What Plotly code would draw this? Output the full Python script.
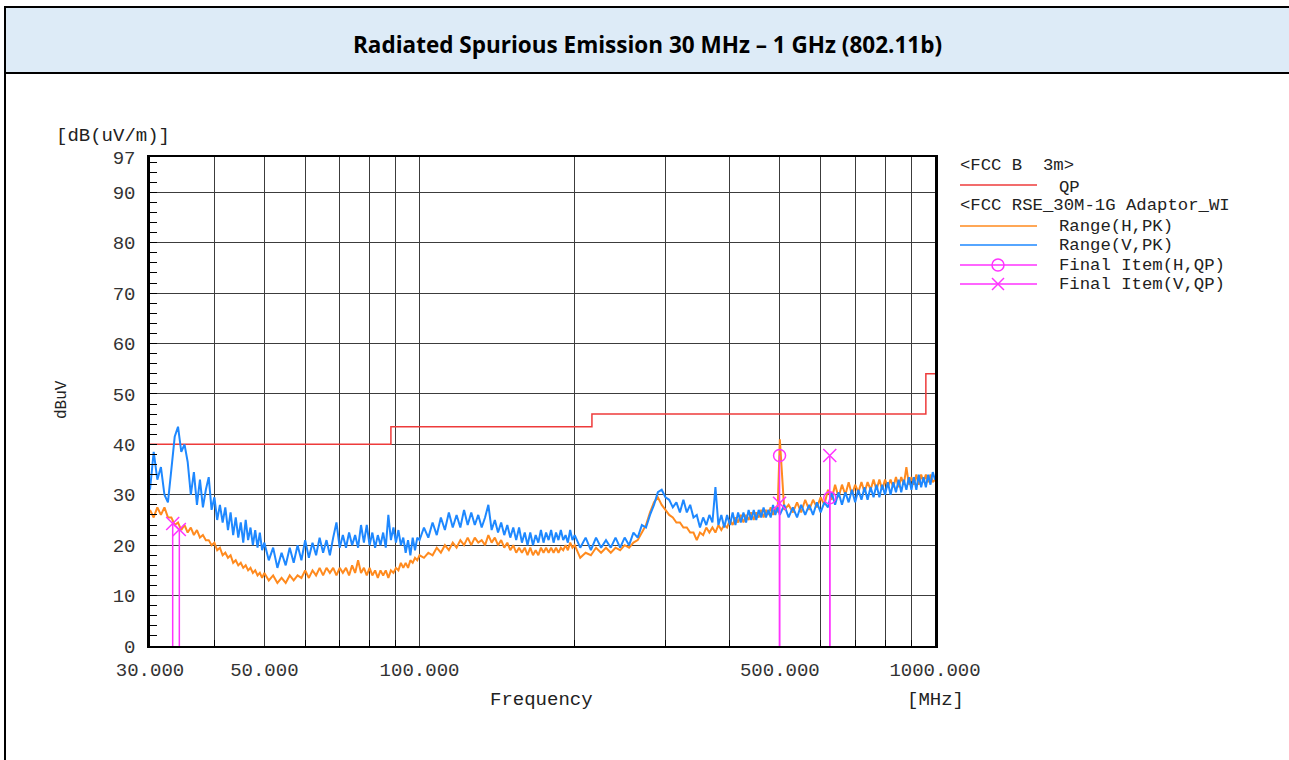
import plotly.graph_objects as go

# ---------------- data ----------------
freq_mhz = [
    30, 30.5, 31, 31.5, 32, 32.5, 33, 33.5, 34, 34.5, 35, 35.5, 36, 36.5, 37, 37.5, 38, 38.5, 39, 39.5,
    40, 40.5, 41, 41.5, 42, 42.5, 43, 43.5, 44, 44.5, 45, 45.5, 46, 46.5, 47, 47.5, 48, 48.5, 49, 49.5,
    50, 51, 52, 53, 54, 55, 56, 57, 58, 59, 60, 61, 62, 63, 64, 65, 66, 67, 68, 69,
    70, 71, 72, 73, 74, 75, 76, 77, 78, 79, 80, 81, 82, 83, 84, 85, 86, 87, 88, 89,
    90, 91, 92, 93, 94, 95, 96, 97, 98, 99,
    100, 102, 104, 106, 108, 110, 112, 114, 116, 118, 120, 122, 124, 126, 128, 130, 132, 134, 136, 138,
    140, 142, 144, 146, 148, 150, 152, 154, 156, 158, 160, 162, 164, 166, 168, 170, 172, 174, 176, 178,
    180, 182, 184, 186, 188, 190, 192, 194, 196, 198,
    200, 205, 210, 215, 220, 225, 230, 235, 240, 245, 250, 255, 260, 265, 270, 275, 280, 285, 290, 295,
    300, 305, 310, 315, 320, 325, 330, 335, 340, 345, 350, 355, 360, 365, 370, 375, 380, 385, 390, 395,
    400, 405, 410, 415, 420, 425, 430, 435, 440, 445, 450, 455, 460, 465, 470, 475, 480, 485, 490, 495,
    500, 510, 520, 530, 540, 550, 560, 570, 580, 590, 600, 610, 620, 630, 640, 650, 660, 670, 680, 690,
    700, 710, 720, 730, 740, 750, 760, 770, 780, 790, 800, 810, 820, 830, 840, 850, 860, 870, 880, 890,
    900, 910, 920, 930, 940, 950, 960, 970, 980, 990, 1000]

range_h_pk = [
    27, 25.5, 27.5, 26, 27.5, 25.5, 25.5, 24, 24.5, 23, 24, 22.5, 23.5, 22, 23, 21.5, 22, 21, 21, 20,
    20.5, 19, 19.5, 18, 18.5, 17.5, 18, 16.5, 17, 16, 16.5, 15.5, 16, 15, 15.5, 14.5, 15, 14, 14.5, 13.5,
    14.5, 13, 14, 12.5, 13.5, 12.5, 14, 13, 14, 13.5, 15, 13.5, 15, 14, 15.5, 14, 15.5, 14.5, 15.5, 14,
    15.5, 14.5, 15.5, 14, 16, 14.5, 17, 14.5, 15.5, 14, 15.5, 14, 15, 13.5, 15, 14, 15, 13.5, 15, 14.5,
    15.5, 15, 16.5, 15.5, 16.5, 15.5, 17, 16.5, 17.5, 17,
    18, 17.5, 18.5, 18, 19.5, 18.5, 20, 19, 20.5, 19.5, 21, 20, 21.5, 20, 21.5, 20.5, 21, 20, 22, 20.5,
    21.5, 20, 21, 19.5, 20.5, 19, 20, 18.5, 19.5, 18.5, 19.5, 18, 19.5, 18, 19, 18, 19.5, 18.5, 19.5, 18.5,
    19.5, 18.5, 19.5, 18.5, 19.5, 19, 20, 19, 20.5, 19.5,
    20, 17.5, 18.5, 18, 19.5, 18.5, 19.5, 18.5, 19.5, 19, 20, 19.5, 20.5, 21, 22.5, 24, 26.5, 28.5, 29.5, 28,
    27, 26, 25.5, 24.5, 24.5, 23.5, 23.5, 22.5, 22.5, 21, 22.5, 22, 23.5, 22.5, 23.5, 22.5, 24, 23, 24, 23.5,
    25, 24, 25.5, 24.5, 26, 24.5, 26, 25, 26.5, 25, 26.5, 25.5, 27, 25.5, 27, 26, 27.5, 26, 27.5, 26.5,
    41, 27, 28, 26.5, 28.5, 26.5, 29, 27, 29, 27.5, 29.5, 28, 31, 29, 32, 29.5, 32, 30, 32.5, 30,
    32, 30.5, 32.5, 30.5, 32.5, 31, 33, 31, 33, 31, 33, 31.5, 33, 31.5, 33.5, 31.5, 33.5, 32, 35.5, 32,
    33.5, 32, 34, 32, 34, 32.5, 34, 32.5, 34, 32.5, 33]

range_v_pk = [
    31, 38.5, 33, 35.5, 30, 28.5, 35, 41.5, 43.5, 38.5, 40, 36.5, 30, 34.5, 28, 33, 27.5, 31, 33.5, 27,
    29.5, 25, 28, 24.5, 27.5, 23, 26.5, 22, 25.5, 21.5, 24.5, 20.5, 25, 21, 23.5, 20, 23, 19.5, 22.5, 19,
    20.5, 17, 19.5, 15.5, 18.5, 16, 19.5, 16.5, 20, 17, 21, 17.5, 20.5, 18, 21.5, 18.5, 21, 18, 21.5, 24.5,
    19.5, 22, 19.5, 22.5, 20, 22, 19.5, 24, 20.5, 24, 20, 22.5, 19.5, 22, 20, 22.5, 19.5, 26, 21, 23.5,
    20.5, 23, 20, 21.5, 18.5, 21, 18, 21.5, 19, 21.5,
    21, 23.5, 21.5, 24.5, 22, 25.5, 23, 26.5, 23.5, 26, 23.5, 27, 24, 26.5, 24, 26, 23.5, 25.5, 28, 23,
    25, 22.5, 24.5, 22, 24, 21.5, 23.5, 21, 23.5, 20.5, 22.5, 20, 22.5, 20, 22, 20.5, 23, 20.5, 22.5, 21,
    23, 20.5, 22.5, 21, 23, 21, 22, 20.5, 23, 21,
    22, 19.5, 21.5, 19, 21.5, 19.5, 21, 19.5, 21.5, 19.5, 21.5, 20, 22.5, 21.5, 24, 23.5, 26, 28, 30.5, 31,
    29.5, 29, 27.5, 28.5, 26.5, 29, 26.5, 28, 25.5, 26, 23.5, 25.5, 24, 26, 24.5, 31.5, 24, 26, 23.5, 26,
    24, 26.5, 24, 26.5, 24.5, 26.5, 24.5, 27, 25, 27, 25, 27, 25.5, 27.5, 25.5, 27, 25.5, 28, 26, 27.5,
    26, 28, 25.5, 27.5, 25.5, 28, 26, 28, 26, 28.5, 26.5, 28.5, 27.5, 30.5, 28, 30.5, 28, 30.5, 28.5, 31,
    28.5, 31, 29, 31.5, 29, 31.5, 29.5, 32, 29.5, 32, 30, 32.5, 30, 32.5, 30.5, 33, 30.5, 33, 31, 33.5,
    31, 33.5, 31, 34, 31.5, 33.5, 31.5, 34, 32, 34.5, 33]

limit_freq = [30, 88, 88, 216, 216, 960, 960, 1000]
limit_qp = [40, 40, 43.5, 43.5, 46, 46, 54, 54]

final_h_freq = [499.4, 625.0]
final_h_qp = [37.8, 29.4]
final_v_freq = [33.2, 34.2, 499.4, 625.0]
final_v_qp = [24.3, 23.1, 28.3, 37.8]

x_tick_vals = [30, 50, 100, 500, 1000]
x_tick_text = ["30.000", "50.000", "100.000", "500.000", "1000.000"]
x_minor_vals = [40, 60, 70, 80, 90, 200, 300, 400, 600, 700, 800, 900]
y_tick_vals = [0, 10, 20, 30, 40, 50, 60, 70, 80, 90, 97]

# ---------------- styling ----------------
RED = "#EE3B3B"
ORANGE = "#FF8A1E"
BLUE = "#1E88FF"
MAGENTA = "#FF33FF"
GRID = "#3c3c3c"
MONO = "Liberation Mono"

L, R, T, B = 150, 935, 157, 646
W, H = 1289, 760


def PX(x):
    return (x - L) / (R - L)


def PY(y):
    return (B - y) / (B - T)


def stems(freqs, vals):
    xs, ys = [], []
    for f, v in zip(freqs, vals):
        xs += [f, f, None]
        ys += [0, v, None]
    return xs, ys


fig = go.Figure()

fig.add_trace(go.Scatter(x=limit_freq, y=limit_qp, mode="lines",
                         line=dict(color=RED, width=1.5), name="QP"))
fig.add_trace(go.Scatter(x=freq_mhz, y=range_h_pk, mode="lines",
                         line=dict(color=ORANGE, width=2), name="Range(H,PK)"))
fig.add_trace(go.Scatter(x=freq_mhz, y=range_v_pk, mode="lines",
                         line=dict(color=BLUE, width=2), name="Range(V,PK)"))

sx, sy = stems(final_h_freq, final_h_qp)
fig.add_trace(go.Scatter(x=sx, y=sy, mode="lines", line=dict(color=MAGENTA, width=1.5),
                         hoverinfo="skip", showlegend=False))
sx, sy = stems(final_v_freq, final_v_qp)
fig.add_trace(go.Scatter(x=sx, y=sy, mode="lines", line=dict(color=MAGENTA, width=1.5),
                         hoverinfo="skip", showlegend=False))
fig.add_trace(go.Scatter(x=final_h_freq, y=final_h_qp, mode="markers", name="Final Item(H,QP)",
                         marker=dict(symbol="circle-open", size=12, color=MAGENTA,
                                     line=dict(width=1.5, color=MAGENTA))))
fig.add_trace(go.Scatter(x=final_v_freq, y=final_v_qp, mode="markers", name="Final Item(V,QP)",
                         marker=dict(symbol="x-thin-open", size=13, color=MAGENTA,
                                     line=dict(width=1.5, color=MAGENTA))))

fig.update_xaxes(type="log", range=[1.4771213, 3.0], tickmode="array",
                 tickvals=x_tick_vals, ticktext=x_tick_text,
                 tickfont=dict(family=MONO, size=19, color="#333333"),
                 showgrid=True, gridcolor=GRID, gridwidth=1.2,
                 showline=True, linecolor="black", linewidth=2, mirror=True,
                 ticks="", zeroline=False, ticklabelstandoff=5,
                 minor=dict(tickmode="array", tickvals=x_minor_vals, showgrid=True,
                            gridcolor=GRID, gridwidth=1.2, ticks="inside", ticklen=6,
                            tickcolor="black"))
fig.update_yaxes(range=[0, 97], tickmode="array", tickvals=y_tick_vals,
                 tickfont=dict(family=MONO, size=19, color="#333333"),
                 showgrid=True, gridcolor=GRID, gridwidth=1.2,
                 showline=True, linecolor="black", linewidth=2.5, mirror=True,
                 ticks="", zeroline=False, ticklabelstandoff=8,
                 minor=dict(tickmode="linear", tick0=0, dtick=2, ticks="inside",
                            ticklen=7, tickcolor="black", showgrid=False))

shapes = []
# table frame and title band
shapes.append(dict(type="rect", xref="paper", yref="paper",
                   x0=PX(5), x1=PX(1290), y0=PY(73), y1=PY(7),
                   fillcolor="#DDEBF7", line=dict(color="black", width=2), layer="below"))
shapes.append(dict(type="line", xref="paper", yref="paper",
                   x0=PX(5), x1=PX(5), y0=PY(761), y1=PY(7),
                   line=dict(color="black", width=2)))

# legend samples
leg_x0, leg_x1 = 960, 1037
leg = [(185, RED), (226, ORANGE), (245, BLUE), (265, MAGENTA), (284, MAGENTA)]
for yy, col in leg:
    shapes.append(dict(type="line", xref="paper", yref="paper",
                       x0=PX(leg_x0), x1=PX(leg_x1), y0=PY(yy), y1=PY(yy),
                       line=dict(color=col, width=1.5)))
cx, cy, r = 998, 265, 6
shapes.append(dict(type="circle", xref="paper", yref="paper",
                   x0=PX(cx - r), x1=PX(cx + r), y0=PY(cy + r), y1=PY(cy - r),
                   line=dict(color=MAGENTA, width=1.5)))
cy2 = 284
for dx in (-1, 1):
    shapes.append(dict(type="line", xref="paper", yref="paper",
                       x0=PX(cx - 6), x1=PX(cx + 6), y0=PY(cy2 - 6 * dx), y1=PY(cy2 + 6 * dx),
                       line=dict(color=MAGENTA, width=1.5)))

annotations = []


def txt(x, y, s, size=17, xanchor="left", family=MONO, color="#222222", angle=0):
    annotations.append(dict(x=PX(x), y=PY(y), xref="paper", yref="paper", text=s,
                            showarrow=False, xanchor=xanchor, yanchor="middle",
                            textangle=angle, font=dict(family=family, size=size, color=color)))


txt(647, 45, "<b>Radiated Spurious Emission 30 MHz – 1 GHz (802.11b)</b>", size=22.5,
    xanchor="center", family="Open Sans", color="black")
txt(54, 136, "[dB(uV/m)]", size=19)
txt(62, 400, "dBuV", size=16, xanchor="center", angle=-90)
txt(541, 700, "Frequency", size=19, xanchor="center")
txt(935, 700, "[MHz]", size=19, xanchor="center")

LEG_FS = 17.3
txt(958, 165, "&lt;FCC B  3m&gt;", size=LEG_FS)
txt(1057, 187, "QP", size=LEG_FS)
txt(958, 205, "&lt;FCC RSE_30M-1G Adaptor_WI", size=LEG_FS)
txt(1057, 226, "Range(H,PK)", size=LEG_FS)
txt(1057, 245, "Range(V,PK)", size=LEG_FS)
txt(1057, 265, "Final Item(H,QP)", size=LEG_FS)
txt(1057, 284, "Final Item(V,QP)", size=LEG_FS)

fig.update_layout(width=W, height=H, autosize=False,
                  margin=dict(l=L, r=W - R, t=T, b=H - B, pad=0),
                  plot_bgcolor="white", paper_bgcolor="white",
                  showlegend=False, shapes=shapes, annotations=annotations)

fig.write_html("out.html", config={"displayModeBar": False},
               post_script="document.body.style.margin='0px';")
